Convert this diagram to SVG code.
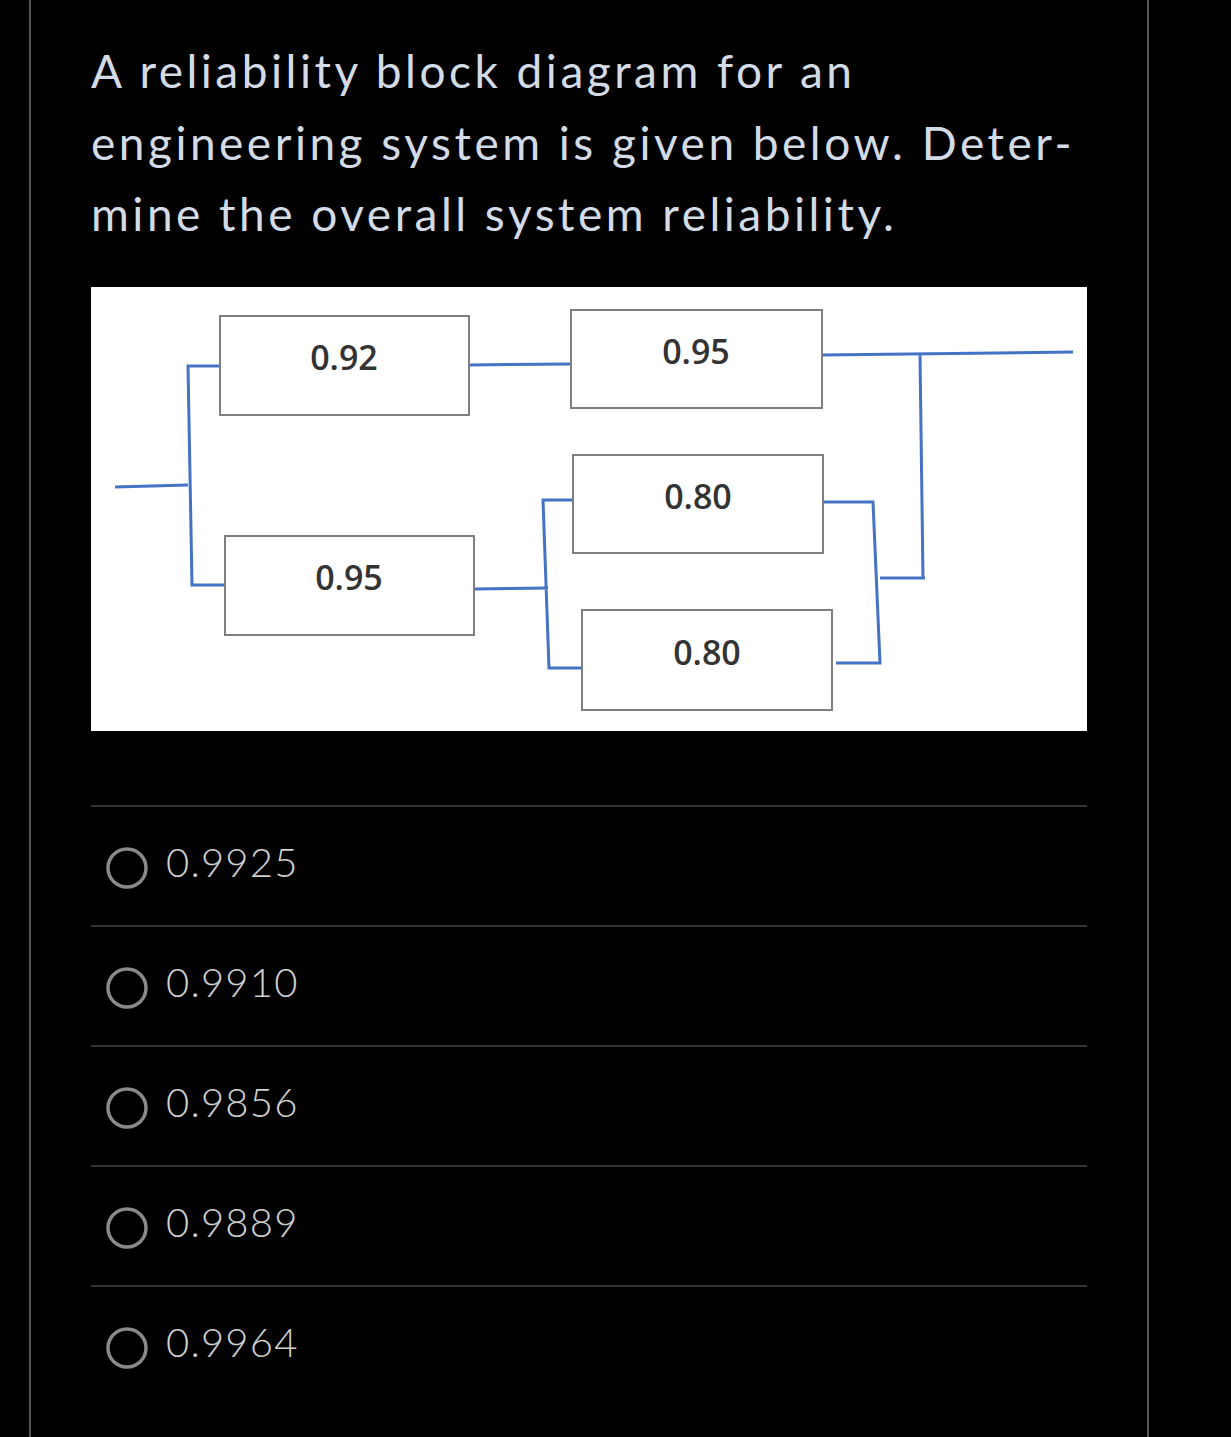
<svg xmlns="http://www.w3.org/2000/svg" width="1231" height="1437" viewBox="0 0 1231 1437">
<style>
.q{font-family:Lato,"Noto Sans",sans-serif;font-size:46px;fill:#d3dbe6;letter-spacing:3.5px}
.b{fill:#fff;stroke:#7f7f7f;stroke-width:2}
.bt{font-family:"Open Sans","DejaVu Sans",sans-serif;font-size:34px;fill:#333;text-anchor:middle;font-weight:600}
.w{stroke:#4472c4;stroke-width:3;fill:none}
.sep{stroke:#333;stroke-width:2}
.r{fill:none;stroke:#8a8a8a;stroke-width:3.5}
.o{font-family:Lato,"Noto Sans",sans-serif;font-size:40px;fill:#d0d0d0;font-weight:300;letter-spacing:1.2px}
</style>
<rect width="1231" height="1437" fill="#000"/>
<line x1="30" y1="0" x2="30" y2="1437" stroke="#555" stroke-width="2"/>
<line x1="1148" y1="0" x2="1148" y2="1437" stroke="#555" stroke-width="2"/>
<text class="q" x="91" y="88">A reliability block diagram for an</text>
<text class="q" x="91" y="160">engineering system is given below. Deter-</text>
<text class="q" x="91" y="231">mine the overall system reliability.</text>
<rect x="91" y="287" width="996" height="444" fill="#fff"/>
<g id="connectors">
<path class="w" d="M115,487 L188,485 M222,366 H188 L192,585 H225 M469,365 L571,364 M822,355 L1073,352 M474,589 L548,588 M573,500 H543 L549,668 H584 M823,502 H873 L880,663 H836 M880,578 H925 M920,355 L923,578"/>
</g>
<g id="n1"><rect class="b" x="220" y="316" width="249" height="99"/><text class="bt" x="344" y="370">0.92</text></g>
<g id="n2"><rect class="b" x="571" y="310" width="251" height="98"/><text class="bt" x="696" y="364">0.95</text></g>
<g id="n3"><rect class="b" x="573" y="455" width="250" height="98"/><text class="bt" x="698" y="509">0.80</text></g>
<g id="n4"><rect class="b" x="225" y="536" width="249" height="99"/><text class="bt" x="349" y="590">0.95</text></g>
<g id="n5"><rect class="b" x="582" y="610" width="250" height="100"/><text class="bt" x="707" y="665">0.80</text></g>
<line class="sep" x1="91" y1="806" x2="1087" y2="806"/>
<line class="sep" x1="91" y1="926" x2="1087" y2="926"/>
<line class="sep" x1="91" y1="1046" x2="1087" y2="1046"/>
<line class="sep" x1="91" y1="1166" x2="1087" y2="1166"/>
<line class="sep" x1="91" y1="1286" x2="1087" y2="1286"/>
<circle class="r" cx="127" cy="868" r="19"/><text class="o" x="166" y="877">0.9925</text>
<circle class="r" cx="127" cy="988" r="19"/><text class="o" x="166" y="997">0.9910</text>
<circle class="r" cx="127" cy="1108" r="19"/><text class="o" x="166" y="1117">0.9856</text>
<circle class="r" cx="127" cy="1228" r="19"/><text class="o" x="166" y="1237">0.9889</text>
<circle class="r" cx="127" cy="1348" r="19"/><text class="o" x="166" y="1357">0.9964</text>
</svg>
